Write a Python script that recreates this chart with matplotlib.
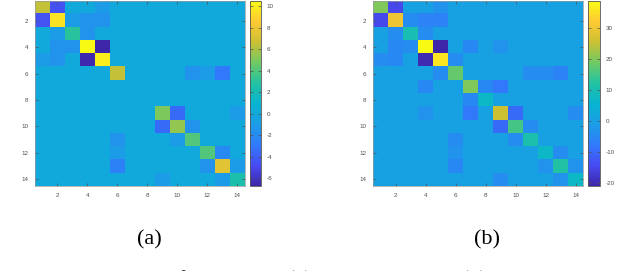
import numpy as np
import matplotlib
matplotlib.use("Agg")
import matplotlib.pyplot as plt
from matplotlib.colors import LinearSegmentedColormap

## Datos: matrices 14x14
# (a) matriz verdadera
mat_a = [
    [6.5, -4.5, 0, 0, -1, 0, 0, 0, 0, 0, 0, 0, 0, 0],
    [-4.5, 9.5, -1, -1.5, -1.5, 0, 0, 0, 0, 0, 0, 0, 0, 0],
    [0, -1, 3, -1.5, 0, 0, 0, 0, 0, 0, 0, 0, 0, 0],
    [0, -1.5, -1.5, 10.5, -6.7, 0, 0, 0, 0, 0, 0, 0, 0, 0],
    [-1, -1.5, 0, -6.5, 10, 0, 0, 0, 0, 0, 0, 0, 0, 0],
    [0, 0, 0, 0, 0, 6.5, 0, 0, 0, 0, -1.5, -1, -3, 0],
    [0, 0, 0, 0, 0, 0, 0, 0, 0, 0, 0, 0, 0, 0],
    [0, 0, 0, 0, 0, 0, 0, 0, 0, 0, 0, 0, 0, 0],
    [0, 0, 0, 0, 0, 0, 0, 0, 5, -3.5, 0, 0, 0, -1],
    [0, 0, 0, 0, 0, 0, 0, 0, -3.5, 5.5, -1.5, 0, 0, 0],
    [0, 0, 0, 0, 0, -1.5, 0, 0, 0, -1, 4, 0, 0, 0],
    [0, 0, 0, 0, 0, -1, 0, 0, 0, 0, 0, 4, -2, 0],
    [0, 0, 0, 0, 0, -2.5, 0, 0, 0, 0, 0, -1.5, 7.5, -1],
    [0, 0, 0, 0, 0, 0, 0, 0, -1, 0, 0, 0, -1, 2.5],
]
# (b) estimacion
mat_b = [
    [20, -15, 0, 0, -3, 0, 0, 0, 0, 0, 0, 0, 0, 0],
    [-15, 30, -4, -6, -6, 0, 0, 0, 0, 0, 0, 0, 0, 0],
    [0, -4, 10, -4, 0, 0, 0, 0, 0, 0, 0, 0, 0, 0],
    [0, -5, -4, 38.9, -21.1, 0, -5, 0, -3, 0, 0, 0, 0, 0],
    [-4, -5, 0, -20, 36, -4, 0, 0, 0, 0, 0, 0, 0, 0],
    [0, 0, 0, 0, -4, 18, 0, 0, 0, 0, -4, -4, -6, 0],
    [0, 0, 0, -5, 0, 0, 20, -5, -8, 0, 0, 0, 0, 0],
    [0, 0, 0, 0, 0, 0, -5, 7, 0, 0, 0, 0, 0, 0],
    [0, 0, 0, -3, 0, 0, -8, 0, 26, -10, 0, 0, 0, -4],
    [0, 0, 0, 0, 0, 0, 0, 0, -10, 15, -4, 0, 0, 0],
    [0, 0, 0, 0, 0, -4, 0, 0, 0, -4, 11, 0, 0, 0],
    [0, 0, 0, 0, 0, -3, 0, 0, 0, 0, 0, 7, -4, 0],
    [0, 0, 0, 0, 0, -5, 0, 0, 0, 0, 0, -3, 12, -3],
    [0, 0, 0, 0, 0, 0, 0, 0, -4, 0, 0, 0, -3, 7],
]
ticks_ij = [2, 4, 6, 8, 10, 12, 14]
cbar_ticks_a = [-6, -4, -2, 0, 2, 4, 6, 8, 10]
cbar_ticks_b = [-20, -10, 0, 10, 20, 30]
panel_labels = ["(a)", "(b)"]
caption = "Fig. 1: Illustration of the matrix (a) and its estimate (b) obtained by the proposed method."

## Mapa de color tipo parula (MATLAB, version nueva)
parula_pts = [
    (0.2422, 0.1504, 0.6603), (0.2796, 0.2958, 0.9520), (0.1923, 0.4832, 0.9888),
    (0.1096, 0.6153, 0.9024), (0.0298, 0.7076, 0.8163), (0.1340, 0.7617, 0.6360),
    (0.4420, 0.7918, 0.3899), (0.7960, 0.7553, 0.2003), (0.9957, 0.7913, 0.2025),
    (0.9769, 0.9839, 0.0805),
]
parula = LinearSegmentedColormap.from_list("parula", parula_pts, N=256)

plt.rcParams["font.family"] = ["Liberation Sans", "DejaVu Sans"]
plt.rcParams["axes.unicode_minus"] = False

fig = plt.figure(figsize=(6.4, 2.71), dpi=100)

axes_pos = [[0.0547, 0.314, 0.328, 0.683], [0.583, 0.314, 0.328, 0.683]]
cbar_pos = [[0.3906, 0.314, 0.0172, 0.683], [0.919, 0.314, 0.0187, 0.683]]
mats = [mat_a, mat_b]
cticks = [cbar_ticks_a, cbar_ticks_b]
grey = "#505050"

for k in range(2):
    m = np.array(mats[k])
    ax = fig.add_axes(axes_pos[k])
    im = ax.imshow(m, cmap=parula, aspect="auto", interpolation="nearest",
                   extent=(0.5, 14.5, 14.5, 0.5), vmin=m.min(), vmax=m.max())
    ax.set_xticks(ticks_ij)
    ax.set_yticks(ticks_ij)
    ax.tick_params(direction="in", length=2, width=0.5, labelsize=4.5,
                   colors=grey, top=True, right=True, pad=5)
    for s in ax.spines.values():
        s.set_linewidth(0.5)
        s.set_color("#999999")
    cax = fig.add_axes(cbar_pos[k])
    cb = fig.colorbar(im, cax=cax, ticks=cticks[k])
    cb.outline.set_linewidth(0.6)
    cb.outline.set_color("#555555")
    cax.tick_params(direction="in", length=2, width=0.5, labelsize=4.5,
                    colors=grey, left=True, pad=4)
    fig.text(axes_pos[k][0] + 0.5 * axes_pos[k][2] + 0.014, 1 - 240 / 271,
             panel_labels[k], ha="center", va="center", fontsize=16,
             family="Liberation Serif")

# pie de figura: en la referencia solo se ve el borde superior
fig.text(0.0, 1 - 270 / 271, caption, ha="left", va="top", fontsize=16,
         family="Liberation Serif", color="#222222")

fig.savefig("out.png", dpi=100)
